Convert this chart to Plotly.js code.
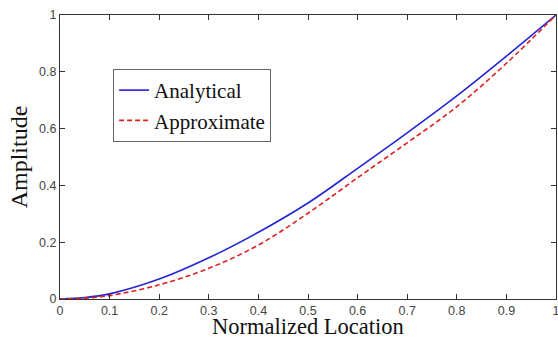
<!DOCTYPE html>
<html>
<head>
<meta charset="utf-8">
<script src="https://cdn.plot.ly/plotly-3.0.1.min.js"></script>
<style>html,body{margin:0;padding:0;background:#fff;}</style>
</head>
<body>
<div id="chart" style="width:558px;height:340px;"></div>
<script>
const xLoc = [0, 0.05, 0.1, 0.2, 0.3, 0.4, 0.5, 0.6, 0.7, 0.8, 0.9, 1.0];
const analytical = [0, 0.005, 0.018, 0.07, 0.145, 0.235, 0.338, 0.46, 0.585, 0.715, 0.855, 1.0];
const approximate = [0, 0.003, 0.012, 0.05, 0.108, 0.19, 0.302, 0.427, 0.55, 0.677, 0.83, 1.0];
const xTicks = [0, 0.1, 0.2, 0.3, 0.4, 0.5, 0.6, 0.7, 0.8, 0.9, 1];
const yTicks = [0, 0.2, 0.4, 0.6, 0.8, 1];
const xTitle = 'Normalized Location';
const yTitle = 'Amplitude';

const traces = [
  {x: xLoc, y: analytical, name: 'Analytical', mode: 'lines',
   line: {color: '#2424d4', width: 1.6, shape: 'spline', dash: 'solid'}},
  {x: xLoc, y: approximate, name: 'Approximate', mode: 'lines',
   line: {color: '#dd2222', width: 1.6, shape: 'spline', dash: '5px,3px'}}
];
const tickFont = {family: 'Liberation Sans, Arial, sans-serif', size: 12.5, color: '#444'};
const serif = 'Liberation Serif, Times New Roman, serif';
const axisCommon = {
  showgrid: false, zeroline: false, showline: true, linecolor: '#333', linewidth: 1,
  mirror: 'ticks', ticks: 'inside', ticklen: 5, tickcolor: '#333', tickfont: tickFont,
  ticklabeloverflow: 'allow'
};
const layout = {
  width: 558, height: 340,
  margin: {l: 60, r: 2, t: 15, b: 41},
  paper_bgcolor: '#fff', plot_bgcolor: '#fff',
  showlegend: true,
  legend: {x: 0.107, y: 0.81, xanchor: 'left', yanchor: 'top',
    bgcolor: '#fff', bordercolor: '#666', borderwidth: 1,
    font: {family: serif, size: 21, color: '#111'},
    tracegroupgap: 0, itemwidth: 30},
  xaxis: Object.assign({}, axisCommon, {range: [0, 1], tickvals: xTicks, ticktext: xTicks.map(String)}),
  yaxis: Object.assign({}, axisCommon, {range: [0, 1], tickvals: yTicks, ticktext: yTicks.map(String),
    title: {text: yTitle, standoff: 4,
      font: {family: serif, size: 24, color: '#111'}}}),
  annotations: [{
    text: xTitle, xref: 'paper', yref: 'paper', x: 0.5, y: -0.143,
    xanchor: 'center', yanchor: 'bottom', showarrow: false, borderpad: 0,
    font: {family: serif, size: 22.5, color: '#111'}
  }]
};
Plotly.newPlot('chart', traces, layout, {displayModeBar: false, staticPlot: true});
</script>
</body>
</html>
